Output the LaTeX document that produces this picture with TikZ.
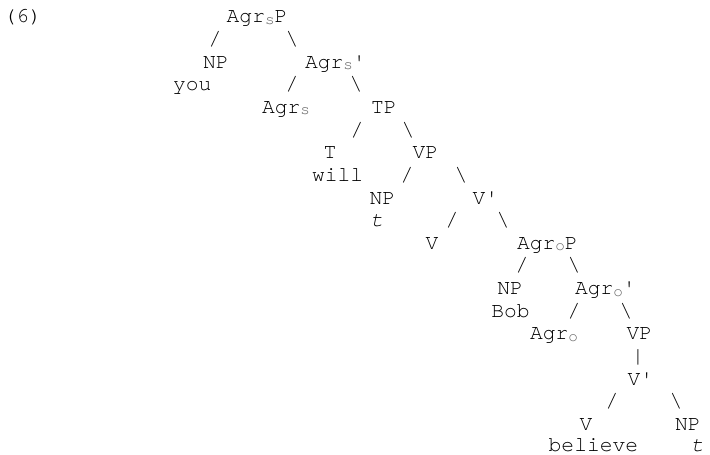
\documentclass[tikz,border=0pt]{standalone}
\usepackage{fontspec}
\newfontfamily\mono{texgyrecursor}[Extension=.otf, UprightFont=*-regular, ItalicFont=*-italic, BoldFont=*-bold]
\newcommand\lsub[1]{\raisebox{-1.5pt}{\fontsize{16}{16}\selectfont\color{black!60}#1}}
\begin{document}
\begin{tikzpicture}[x=1pt,y=-1pt,
  lbl/.style={inner sep=0pt, anchor=base west, text depth=0pt, font=\mono\fontsize{21.3}{22.65}\selectfont},
  sl/.style={inner sep=0pt, anchor=base, text depth=0pt, font=\mono\fontsize{21.3}{22.65}\selectfont}]
\useasboundingbox[fill=white] (0,0) rectangle (710,455);
% row 0
\node[lbl] (num) at (3.3,22.8) {(6)};
\node[lbl] (agrsp) at (226.5,22.8) {Agr\lsub{s}P};
% row 1
\node[sl] (s1a) at (215,45.45) {/};
\node[sl] (s1b) at (292,45.45) {\textbackslash};
% row 2
\node[lbl] (np1) at (202.8,68.1) {NP};
\node[lbl] (agrsbar) at (304.8,68.1) {Agr\lsub{s}'};
% row 3
\node[lbl] (you) at (172.8,90.75) {you};
\node[sl] (s3a) at (292,90.75) {/};
\node[sl] (s3b) at (356,90.75) {\textbackslash};
% row 4
\node[lbl] (agrs) at (261.8,113.4) {Agr\lsub{s}};
\node[lbl] (tp) at (371,113.4) {TP};
% row 5
\node[sl] (s5a) at (357,136.05) {/};
\node[sl] (s5b) at (408,136.05) {\textbackslash};
% row 6
\node[sl] (T) at (330,158.7) {T};
\node[lbl] (vp1) at (412.5,158.7) {VP};
% row 7
\node[lbl] (will) at (311.8,181.35) {will};
\node[sl] (s7a) at (407,181.35) {/};
\node[sl] (s7b) at (461,181.35) {\textbackslash};
% row 8
\node[lbl] (np2) at (369.3,204) {NP};
\node[lbl] (vbar1) at (472.5,204) {V'};
% row 9
\node[sl] (t1) at (377,226.65) {\itshape t};
\node[sl] (s9a) at (452,226.65) {/};
\node[sl] (s9b) at (503,226.65) {\textbackslash};
% row 10
\node[sl] (v1) at (432,249.3) {V};
\node[lbl] (agrop) at (516.8,249.3) {Agr\lsub{o}P};
% row 11
\node[sl] (s11a) at (522,271.95) {/};
\node[sl] (s11b) at (574,271.95) {\textbackslash};
% row 12
\node[lbl] (np3) at (497.2,294.6) {NP};
\node[lbl] (agrobar) at (574.8,294.6) {Agr\lsub{o}'};
% row 13
\node[lbl] (bob) at (491.2,317.25) {Bob};
\node[sl] (s13a) at (574,317.25) {/};
\node[sl] (s13b) at (626,317.25) {\textbackslash};
% row 14
\node[lbl] (agro) at (529.8,339.9) {Agr\lsub{o}};
\node[lbl] (vp2) at (626.5,339.9) {VP};
% row 15
\node[sl] (bar) at (638,362.55) {|};
% row 16
\node[lbl] (vbar2) at (627.5,385.2) {V'};
% row 17
\node[sl] (s17a) at (612,407.85) {/};
\node[sl] (s17b) at (676,407.85) {\textbackslash};
% row 18
\node[sl] (v2) at (586,430.3) {V};
\node[lbl] (np4) at (675,430.3) {NP};
% row 19
\node[lbl] (believe) at (548.5,451.8) {believe};
\node[sl] (t2) at (697.5,451.8) {\itshape t};
\end{tikzpicture}
\end{document}
